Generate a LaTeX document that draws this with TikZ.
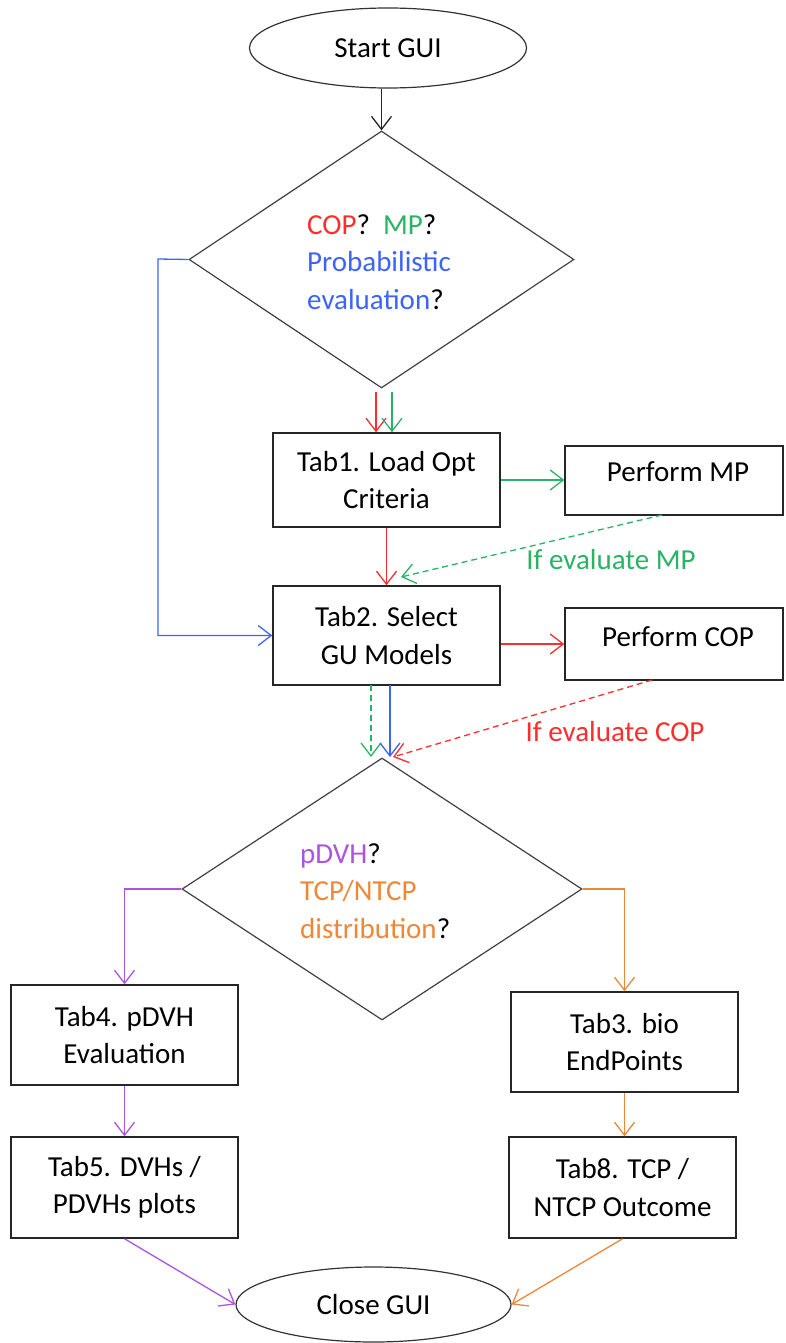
\documentclass[tikz,border=0pt]{standalone}
\usepackage{fontspec}
\setmainfont{Carlito}
\usetikzlibrary{shapes.geometric,arrows.meta}
\definecolor{cred}{RGB}{255,45,45}
\definecolor{cgreen}{RGB}{40,180,100}
\definecolor{cblue}{RGB}{60,100,250}
\definecolor{cpurple}{RGB}{170,85,225}
\definecolor{corange}{RGB}{240,135,55}
\begin{document}
\begin{tikzpicture}[x=1pt,y=-1pt,
  font=\fontsize{29}{37.5}\selectfont,
  box/.style={draw=black!85,line width=1.5pt,rectangle,align=center,inner sep=0pt},
  oval/.style={draw=black!80,line width=1.2pt,ellipse,inner sep=0pt},
  dia/.style={draw=black!75,line width=1.2pt,diamond,inner sep=0pt,aspect=1},
  conn/.style={line width=1.3pt,-{Straight Barb[length=13pt,width=20pt,line width=1.3pt]}},
  dsh/.style={dash pattern=on 6pt off 4pt},
  lbl/.style={inner sep=0pt}]
\useasboundingbox (0,0) rectangle (785,1343);
% nodes
\node[oval,minimum width=277pt,minimum height=80pt] (start) at (388,48) {Start GUI};
\node[dia,minimum width=385pt,minimum height=257pt] (d1) at (381.5,259.5) {};
\node[lbl,anchor=west,align=left] (d1t) at (307,262) {\textcolor{cred}{COP}?\ \ \textcolor{cgreen}{MP}?\\\textcolor{cblue}{Probabilistic}\\\textcolor{cblue}{evaluation}?};
\node[box,minimum width=227pt,minimum height=94pt] (tab1) at (386.5,480) {Tab1. Load Opt\\Criteria};
\node[box,minimum width=218pt,minimum height=69pt] (mp) at (674,480.5) {};
\node[lbl] (mpt) at (678,472) {Perform MP};
\node[box,minimum width=227pt,minimum height=99pt] (tab2) at (386.5,635.5) {Tab2. Select\\GU Models};
\node[box,minimum width=218pt,minimum height=72pt] (cop) at (674,644) {};
\node[lbl] (copt) at (678,637) {Perform COP};
\node[lbl,text=cgreen] (lmp) at (611,560) {If evaluate MP};
\node[lbl,text=cred] (lcop) at (615,732) {If evaluate COP};
\node[dia,minimum width=400pt,minimum height=262pt] (d2) at (382,889) {};
\node[lbl,anchor=west,align=left] (d2t) at (300,891) {\textcolor{cpurple}{pDVH}?\\\textcolor{corange}{TCP/NTCP}\\\textcolor{corange}{distribution}?};
\node[box,minimum width=227pt,minimum height=100pt] (tab4) at (124.5,1035) {Tab4. pDVH\\Evaluation};
\node[box,minimum width=227pt,minimum height=100pt] (tab3) at (624.5,1042) {Tab3. bio\\EndPoints};
\node[box,minimum width=227pt,minimum height=101pt] (tab5) at (124.5,1187.5) {Tab5. DVHs /\\PDVHs plots};
\node[box,minimum width=227pt,minimum height=101pt] (tab8) at (622.5,1187.5) {Tab8. TCP /\\NTCP Outcome};
\node[oval,minimum width=275pt,minimum height=75pt] (close) at (373.5,1304.5) {Close GUI};
% helper coordinates
\coordinate (r1) at (376,392);
\coordinate (g1) at (392,392);
\coordinate (mpb) at (662,515);
\coordinate (mpe) at (401,577);
\coordinate (copb) at (652,680);
\coordinate (cope) at (393,757);
\coordinate (g2) at (371,685);
\coordinate (b2) at (390,685);
\coordinate (bl) at (158,259);
% connectors
\draw[conn,black!85] (d1.north |- start.south) -- (d1.north);
\draw[conn,cred] (r1) -- (r1 |- tab1.north);
\draw[conn,cgreen] (g1) -- (g1 |- tab1.north);
\draw[conn,cgreen] (tab1.east) -- (mp.west |- tab1.east);
\draw[conn,cred] (tab1.south) -- (tab2.north);
\draw[conn,cgreen,dsh] (mpb) -- (mpe);
\draw[conn,cred] (tab2.east |- cop.west) -- (cop.west);
\draw[conn,cred,dsh] (copb) -- (cope);
\draw[conn,cgreen,dsh] (g2) -- (g2 |- cope);
\draw[conn,cblue] (b2) -- (b2 |- cope);
\draw[conn,cblue] (d1.west) -- (bl) |- (tab2.west);
\draw[conn,cpurple] (d2.west) -| (tab4.north);
\draw[conn,corange] (d2.east) -| (tab3.north);
\draw[conn,cpurple] (tab4.south) -- (tab5.north);
\draw[conn,corange] (tab3.south) -- (tab3.south |- tab8.north);
\draw[conn,cpurple] (tab5.south) -- (close.west);
\draw[conn,corange] (tab8.south) -- (close.east);
\end{tikzpicture}
\end{document}
